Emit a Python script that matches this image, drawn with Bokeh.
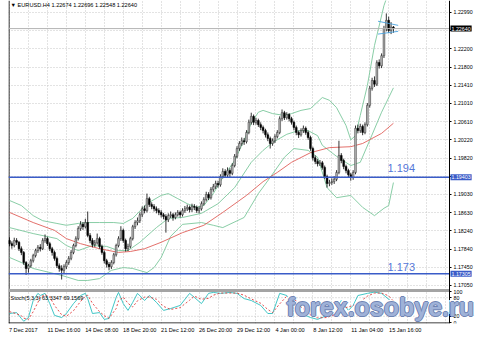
from bokeh.plotting import figure
from bokeh.models import (Range1d, LinearAxis, FixedTicker, Grid, Label,
                          ColumnDataSource)
from bokeh.embed import file_html
from bokeh.resources import INLINE

# ---------------- data ----------------
symbol = "EURUSD.H4"
opens = [1.1803,1.1796,1.1792,1.1803,1.1799,1.1785,1.1777,1.1755,1.1742,1.1748,
         1.1759,1.1770,1.1781,1.1788,1.1785,1.1803,1.1807,1.1796,1.1785,1.1777,
         1.1764,1.1748,1.1742,1.1738,1.1746,1.1755,1.1764,1.1777,1.1792,1.1807,
         1.1829,1.1838,1.1833,1.1842,1.1814,1.1803,1.1794,1.1798,1.1807,1.1790,
         1.1777,1.1759,1.1751,1.1746,1.1755,1.1772,1.1792,1.1807,1.1825,1.1803,
         1.1785,1.1790,1.1807,1.1833,1.1842,1.1846,1.1859,1.1872,1.1868,1.1894,
         1.1881,1.1877,1.1872,1.1868,1.1864,1.1859,1.1855,1.1848,1.1857,1.1859,
         1.1853,1.1859,1.1864,1.1859,1.1868,1.1872,1.1875,1.1870,1.1877,1.1875,
         1.1868,1.1872,1.1883,1.1892,1.1903,1.1896,1.1914,1.1920,1.1927,1.1924,
         1.1942,1.1953,1.1945,1.1955,1.1949,1.1966,1.1986,1.2003,1.2014,1.2020,
         1.2018,1.2038,1.2060,1.2073,1.2060,1.2064,1.2055,1.2049,1.2042,1.2033,
         1.2025,1.2014,1.2020,1.2029,1.2038,1.2068,1.2081,1.2070,1.2077,1.2068,
         1.2060,1.2049,1.2038,1.2033,1.2042,1.2047,1.2038,1.2027,1.2003,1.1983,
         1.1975,1.1970,1.1972,1.1962,1.1942,1.1927,1.1929,1.1931,1.1936,1.1951,
         1.1988,1.1977,1.1964,1.1955,1.1946,1.1940,1.1951,1.2047,1.2042,1.2051,
         1.2038,1.2055,1.2097,1.2134,1.2151,1.2143,1.2190,1.2183,1.2205,1.2264,
         1.2282,1.2260,1.22674]
highs = [1.1810,1.1801,1.1809,1.1808,1.1802,1.1790,1.1780,1.1758,1.1752,1.1763,
         1.1774,1.1785,1.1793,1.1795,1.1808,1.1816,1.1811,1.1800,1.1789,1.1781,
         1.1768,1.1753,1.1749,1.1751,1.1760,1.1769,1.1782,1.1796,1.1812,1.1834,
         1.1845,1.1843,1.1850,1.1866,1.1819,1.1808,1.1804,1.1818,1.1811,1.1794,
         1.1781,1.1763,1.1756,1.1760,1.1776,1.1796,1.1812,1.1834,1.1829,1.1807,
         1.1796,1.1811,1.1837,1.1847,1.1853,1.1864,1.1877,1.1879,1.1905,1.1898,
         1.1886,1.1882,1.1877,1.1873,1.1869,1.1863,1.1860,1.1862,1.1866,1.1863,
         1.1864,1.1869,1.1868,1.1873,1.1878,1.1881,1.1879,1.1883,1.1882,1.1879,
         1.1877,1.1888,1.1897,1.1909,1.1908,1.1919,1.1926,1.1933,1.1933,1.1947,
         1.1960,1.1958,1.1962,1.1960,1.1971,1.1991,1.2008,1.2019,1.2027,1.2026,
         1.2043,1.2066,1.2081,1.2077,1.2070,1.2068,1.2060,1.2053,1.2046,1.2038,
         1.2029,1.2025,1.2034,1.2043,1.2073,1.2088,1.2085,1.2082,1.2080,1.2072,
         1.2064,1.2053,1.2042,1.2047,1.2053,1.2051,1.2042,1.2031,1.2007,1.1988,
         1.1980,1.1978,1.1976,1.1966,1.1946,1.1935,1.1938,1.1943,1.1956,1.2020,
         1.1993,1.1981,1.1968,1.1959,1.1950,1.1956,1.2053,1.2055,1.2057,1.2055,
         1.2060,1.2102,1.2139,1.2157,1.2160,1.2195,1.2197,1.2210,1.2270,1.2297,
         1.2290,1.2278,1.22696]
lows = [1.1790,1.1785,1.1788,1.1793,1.1780,1.1771,1.1750,1.1728,1.1733,1.1744,
        1.1755,1.1766,1.1776,1.1779,1.1782,1.1798,1.1791,1.1780,1.1770,1.1759,
        1.1743,1.1735,1.1718,1.1730,1.1741,1.1750,1.1760,1.1773,1.1788,1.1803,
        1.1824,1.1826,1.1829,1.1810,1.1797,1.1788,1.1789,1.1794,1.1785,1.1772,
        1.1753,1.1744,1.1738,1.1741,1.1751,1.1768,1.1788,1.1802,1.1798,1.1779,
        1.1780,1.1786,1.1803,1.1828,1.1836,1.1841,1.1854,1.1862,1.1864,1.1876,
        1.1871,1.1866,1.1862,1.1858,1.1853,1.1849,1.1820,1.1843,1.1852,1.1846,
        1.1849,1.1855,1.1853,1.1855,1.1863,1.1867,1.1864,1.1865,1.1869,1.1863,
        1.1862,1.1868,1.1879,1.1888,1.1891,1.1892,1.1909,1.1915,1.1918,1.1920,
        1.1938,1.1940,1.1940,1.1940,1.1945,1.1962,1.1982,1.1998,1.2009,1.2011,
        1.2014,1.2034,1.2055,1.2054,1.2055,1.2050,1.2043,1.2036,1.2027,1.2019,
        1.2003,1.2009,1.2015,1.2025,1.2034,1.2063,1.2065,1.2066,1.2062,1.2055,
        1.2043,1.2032,1.2026,1.2029,1.2037,1.2033,1.2022,1.1998,1.1977,1.1969,
        1.1964,1.1965,1.1957,1.1937,1.1918,1.1921,1.1924,1.1926,1.1932,1.1947,
        1.1971,1.1958,1.1949,1.1940,1.1933,1.1935,1.1947,1.2036,1.2037,1.2032,
        1.2034,1.2051,1.2092,1.2129,1.2137,1.2139,1.2177,1.2178,1.2200,1.2258,
        1.2254,1.2252,1.22548]
closes = [1.1796,1.1792,1.1803,1.1799,1.1785,1.1777,1.1755,1.1742,1.1748,1.1759,
          1.1770,1.1781,1.1788,1.1785,1.1803,1.1807,1.1796,1.1785,1.1777,1.1764,
          1.1748,1.1742,1.1738,1.1746,1.1755,1.1764,1.1777,1.1792,1.1807,1.1829,
          1.1838,1.1833,1.1842,1.1814,1.1803,1.1794,1.1798,1.1807,1.1790,1.1777,
          1.1759,1.1751,1.1746,1.1755,1.1772,1.1792,1.1807,1.1825,1.1803,1.1785,
          1.1790,1.1807,1.1833,1.1842,1.1846,1.1859,1.1872,1.1868,1.1894,1.1881,
          1.1877,1.1872,1.1868,1.1864,1.1859,1.1855,1.1848,1.1857,1.1859,1.1853,
          1.1859,1.1864,1.1859,1.1868,1.1872,1.1875,1.1870,1.1877,1.1875,1.1868,
          1.1872,1.1883,1.1892,1.1903,1.1896,1.1914,1.1920,1.1927,1.1924,1.1942,
          1.1953,1.1945,1.1955,1.1949,1.1966,1.1986,1.2003,1.2014,1.2020,1.2018,
          1.2038,1.2060,1.2073,1.2060,1.2064,1.2055,1.2049,1.2042,1.2033,1.2025,
          1.2014,1.2020,1.2029,1.2038,1.2068,1.2081,1.2070,1.2077,1.2068,1.2060,
          1.2049,1.2038,1.2033,1.2042,1.2047,1.2038,1.2027,1.2003,1.1983,1.1975,
          1.1970,1.1972,1.1962,1.1942,1.1927,1.1929,1.1931,1.1936,1.1951,1.1988,
          1.1977,1.1964,1.1955,1.1946,1.1940,1.1951,1.2047,1.2042,1.2051,1.2038,
          1.2055,1.2097,1.2134,1.2151,1.2143,1.2190,1.2183,1.2205,1.2264,1.2282,
          1.2260,1.2267,1.2264]
bars = list(range(len(closes)))

# Bollinger bands (upper / middle / lower) and moving average, read at sample bars
bb_up_idx = [0,5,10,14,20,24,29,33,38,44,48,52,58,64,67,71,75,79,82,86,90,95,99,102,105,107,
             111,116,119,123,127,132,135,138,142,144,146,148,151,154,158,161,162]
bb_up = [1.1890,1.1879,1.1857,1.1846,1.1840,1.1836,1.1840,1.1842,1.1842,1.1842,1.1840,1.1851,
         1.1883,1.1901,1.1905,1.1894,1.1883,1.1875,1.1879,1.1905,1.1940,1.1977,1.2021,1.2058,
         1.2082,1.2086,1.2079,1.2075,1.2079,1.2086,1.2090,1.2114,1.2108,1.2092,1.2053,1.2022,
         1.2031,1.2075,1.2140,1.2227,1.2314,1.2358,1.2373]
bb_mid_idx = [0,10,20,24,29,35,41,46,50,55,62,67,73,81,88,95,102,107,111,117,122,126,130,132,
              138,144,148,152,157,162]
bb_mid = [1.1831,1.1818,1.1807,1.1792,1.1781,1.1792,1.1790,1.1781,1.1781,1.1799,1.1831,1.1851,
          1.1853,1.1862,1.1883,1.1918,1.1973,1.1999,1.2016,1.2034,1.2042,1.2042,1.2031,1.2010,
          1.1986,1.1966,1.1973,1.2021,1.2082,1.2135]
bb_low_idx = [0,5,10,22,29,33,38,43,48,52,58,61,64,68,73,81,86,90,99,105,110,116,120,126,130,
              134,138,144,149,154,158,160,162]
bb_low = [1.1766,1.1755,1.1742,1.1727,1.1716,1.1716,1.1720,1.1738,1.1744,1.1742,1.1733,1.1744,
          1.1766,1.1812,1.1838,1.1842,1.1836,1.1831,1.1853,1.1905,1.1940,1.1984,1.2003,1.1999,
          1.1984,1.1918,1.1896,1.1901,1.1875,1.1857,1.1873,1.1879,1.1929]
ma_idx = [0,10,19,24,30,38,46,51,57,64,73,82,90,100,107,113,119,127,135,144,149,157,162]
ma = [1.1864,1.1842,1.1825,1.1807,1.1796,1.1785,1.1777,1.1779,1.1785,1.1799,1.1820,1.1836,
      1.1864,1.1901,1.1931,1.1951,1.1973,1.1994,1.2005,1.2007,1.2014,1.2036,1.2058]

# Stochastic (5,3,3)
st_idx = [0,3,5,6,8,10,12,13,15,17,19,22,24,27,30,32,33,35,38,40,42,45,46,48,50,52,54,57,59,62,
          65,68,72,76,78,81,84,86,89,93,96,99,102,106,109,111,114,117,120,123,127,130,134,137,
          140,143,145,147,151,154,157,160,162]
st_main = [29,32,13,4,16,71,94,87,94,61,23,16,29,61,87,94,77,29,32,10,13,81,97,61,39,65,94,71,
           87,65,39,45,55,94,81,61,94,97,94,97,94,77,71,55,29,29,94,87,61,29,16,10,23,29,71,39,
           55,87,94,98,94,75,63]
st_signal = [35,28,22,14,10,35,65,82,90,82,55,25,20,38,68,85,88,62,35,22,14,45,70,82,62,50,70,
             82,82,75,52,42,48,72,85,75,78,88,95,95,95,88,76,62,42,32,60,85,78,50,25,15,16,25,
             45,50,55,62,85,95,95,86,69]
stoch_levels = [20, 80]
stoch_tick_values = [100, 80, 20, 0]
stoch_text = "Stoch(5,3,3) 63.3347 69.1569"

# horizontal levels and drawn objects
level_hi, level_lo = 1.19403, 1.17305
level_hi_text, level_lo_text = "1.194", "1.173"
bid = closes[-1]
tri_x = [155.5, 164.0]
tri_up = [1.2280, 1.2271]
tri_dn = [1.2252, 1.2258]

# axis ticks
price_ticks = [1.22990, 1.22595, 1.22200, 1.21800, 1.21410, 1.21010, 1.20610, 1.20220,
               1.19820, 1.19425, 1.19030, 1.18630, 1.18240, 1.17840, 1.17450, 1.17050]
hidden_price_ticks = [1.22595, 1.19425]
time_tick_idx = [0, 16, 32, 48, 64, 80, 96, 112, 128, 144, 160]
time_tick_text = ["7 Dec 2017", "11 Dec 16:00", "14 Dec 08:00", "18 Dec 20:00", "21 Dec 12:00",
                  "26 Dec 20:00", "29 Dec 12:00", "4 Jan 00:00", "8 Jan 12:00", "11 Jan 04:00",
                  "15 Jan 16:00"]
watermark = "forex.osobye.ru"

# ---------------- layout constants ----------------
W, H = 499, 337
FL, FT, FB = 8, 0, 323     # frame left / top / bottom (px)
AXIS_PX = 449              # where the price scale line sits
RIGHT_PANEL = 24           # room reserved for the (fixed-location) price axis
FR = W - RIGHT_PANEL       # frame right edge
BAR_PX = 2.37
X_START = -0.42
X_END = X_START + (FR - FL) / BAR_PX
PX_PER_PRICE = 4596.0
P_TOP = 1.23251
P_BOT = P_TOP - (FB - FT) / PX_PER_PRICE
S_START = -1 / 0.31
S_END = 100 + 291 / 0.31
FONT = "Liberation Sans"


def xd(px):
    return X_START + (px - FL) / BAR_PX


def yd(py):
    return P_TOP - (py - FT) / PX_PER_PRICE


def stoch_as_price(v):
    py = (S_END - v) / (S_END - S_START) * (FB - FT) + FT
    return yd(py)


p = figure(width=W, height=H, x_range=Range1d(X_START, X_END), y_range=Range1d(P_BOT, P_TOP),
           x_axis_location=None, y_axis_location=None, toolbar_location=None,
           output_backend="svg", min_border_left=FL, min_border_right=RIGHT_PANEL,
           min_border_top=FT, min_border_bottom=H - FB, title=None,
           background_fill_color="white", border_fill_color="white",
           outline_line_color=None)
p.extra_y_ranges = {"stoch": Range1d(S_START, S_END)}
p.grid.grid_line_color = None

grid_col = "#c6c6c6"
p.add_layout(Grid(dimension=0, ticker=FixedTicker(ticks=list(range(0, 190, 8))),
                  grid_line_color=grid_col, grid_line_dash="1 2", grid_line_width=1))
p.add_layout(Grid(dimension=1, ticker=FixedTicker(ticks=price_ticks),
                  grid_line_color=grid_col, grid_line_dash="1 2", grid_line_width=1))

# white price-scale area to the right of the chart
X_AX = xd(AXIS_PX)
p.quad(left=[X_AX], right=[X_END + 5], bottom=[P_BOT - 0.01], top=[P_TOP + 0.01],
       fill_color="white", line_color=None)

# frame edges (left and bottom) and panel separator
p.segment(x0=[xd(FL + 0.5)], y0=[P_BOT], x1=[xd(FL + 0.5)], y1=[P_TOP],
          line_color="#000000", line_width=1)
p.segment(x0=[X_START], y0=[yd(FB - 0.5)], x1=[X_AX], y1=[yd(FB - 0.5)],
          line_color="#000000", line_width=1)
sep = (322 - 290) / 0.31
p.segment(x0=[X_START], y0=[sep], x1=[X_AX], y1=[sep], y_range_name="stoch",
          line_color="#a4a4a4", line_width=3)
for lv in stoch_levels:
    p.segment(x0=[X_START], y0=[lv], x1=[X_AX], y1=[lv], y_range_name="stoch",
              line_color="#c0c0c0", line_dash="1 2", line_width=1)

# right price axis drawn at the chart's right edge (price + stochastic scale)
stoch_tick_pos = [stoch_as_price(v) for v in stoch_tick_values]
overrides = {t: f"{t:.5f}" for t in price_ticks}
for t in hidden_price_ticks:
    overrides[t] = ""
for t, v in zip(stoch_tick_pos, stoch_tick_values):
    overrides[t] = str(v)
ax = LinearAxis(ticker=FixedTicker(ticks=price_ticks + stoch_tick_pos),
                major_label_overrides=overrides, fixed_location=X_AX,
                major_label_text_font=FONT, major_label_text_font_size="5.3px",
                major_label_text_color="#000000", major_label_standoff=2,
                axis_line_color="#000000", axis_line_width=1,
                major_tick_in=0, major_tick_out=2, major_tick_line_color="#000000",
                minor_tick_line_color=None)
p.add_layout(ax, "right")

# bottom time axis: labels start at their bar, so the centred label is shifted right
time_pos = [i + len(t) * 2.75 / 2 / BAR_PX for i, t in zip(time_tick_idx, time_tick_text)]
xax = LinearAxis(ticker=FixedTicker(ticks=time_pos),
                 major_label_overrides={pos: t for pos, t in zip(time_pos, time_tick_text)},
                 major_label_text_font=FONT, major_label_text_font_size="5.6px",
                 major_label_text_color="#000000", major_label_standoff=3,
                 axis_line_color=None, major_tick_in=0, major_tick_out=0,
                 major_tick_line_color=None, minor_tick_line_color=None)
p.add_layout(xax, "below")

# indicators
band_col = "#7cc79c"
p.line(bb_up_idx, bb_up, line_color=band_col, line_width=0.9)
p.line(bb_mid_idx, bb_mid, line_color=band_col, line_width=0.9)
p.line(bb_low_idx, bb_low, line_color=band_col, line_width=0.9)
p.line(ma_idx, ma, line_color="#e0605a", line_width=0.9)

# candles
bull = [c >= o for o, c in zip(opens, closes)]
tops = [max(o, c) for o, c in zip(opens, closes)]
bots = [min(o, c) for o, c in zip(opens, closes)]
bots = [b - 0.00004 if t - b < 0.00008 else b for t, b in zip(tops, bots)]
src = ColumnDataSource(dict(i=bars, o=opens, h=highs, l=lows, c=closes, top=tops, bot=bots,
                            fill=["#b8b8b8" if b else "#000000" for b in bull],
                            line=["#303030" if b else "#000000" for b in bull]))
p.segment(x0="i", y0="h", x1="i", y1="l", source=src, line_color="#000000", line_width=0.8)
p.vbar(x="i", top="top", bottom="bot", width=0.74, fill_color="fill", line_color="line",
       line_width=0.5, source=src)

# drawn small lines near last bars
p.line(tri_x, tri_up, line_color="#4aa3e0", line_width=0.9)
p.line(tri_x, tri_dn, line_color="#4aa3e0", line_width=0.9)

# stochastic lines
p.line(st_idx, st_main, y_range_name="stoch", line_color="#2ebfbf", line_width=0.9)
p.line(st_idx, st_signal, y_range_name="stoch", line_color="#e03a3a", line_width=0.9,
       line_dash="2 2")

# horizontal levels (bid line and two support lines)
p.segment(x0=[X_START], y0=[bid], x1=[X_AX], y1=[bid], line_color="#b4b4b4", line_width=1)
for lv in (level_hi, level_lo):
    p.segment(x0=[X_START], y0=[lv], x1=[X_AX], y1=[lv], line_color="#3a5cc8", line_width=1.5)

p.add_layout(Label(x=xd(387), y=yd(167), text=level_hi_text, text_font=FONT,
                   text_font_size="11px", text_color="#5577d8", text_baseline="middle"))
p.add_layout(Label(x=xd(387), y=yd(266), text=level_lo_text, text_font=FONT,
                   text_font_size="11px", text_color="#5577d8", text_baseline="middle"))

# title and indicator label
title = f"\u25bc {symbol}  {opens[-1]:.5f} {highs[-1]:.5f} {lows[-1]:.5f} {closes[-1]:.5f}"
p.add_layout(Label(x=xd(10), y=yd(4.5), text=title, text_font=FONT,
                   text_font_size="5.6px", text_color="#000000", text_baseline="middle"))
p.add_layout(Label(x=xd(10), y=yd(297), text=stoch_text, text_font=FONT,
                   text_font_size="5.5px", text_color="#000000", text_baseline="middle"))

# boxes on the price scale
for val, bg in ((bid, "#000000"), (level_hi, "#3a5cc8"), (level_lo, "#3a5cc8")):
    p.add_layout(Label(x=xd(AXIS_PX + 1), y=val, text=f"{val:.5f}", text_font=FONT,
                       text_font_size="5.3px", text_color="#ffffff", text_baseline="middle",
                       background_fill_color=bg, padding=1))

# watermark: white halo, darker outline, light blue-grey fill
wm_layers = [(-1.5, -1.5, "#ffffff"), (1, 0, "#6f84b3"), (-1, 0, "#6f84b3"),
             (0, 1, "#6f84b3"), (0, -1, "#6f84b3"), (0, 0, "#9fb2d8")]
for dx, dy, col in wm_layers:
    p.add_layout(Label(x=xd(286 + dx), y=yd(306 + dy), text=watermark,
                       text_font=FONT, text_font_style="bold",
                       text_font_size="25px", text_color=col, text_baseline="middle"))

open("out.html", "w").write(file_html(p, INLINE))
